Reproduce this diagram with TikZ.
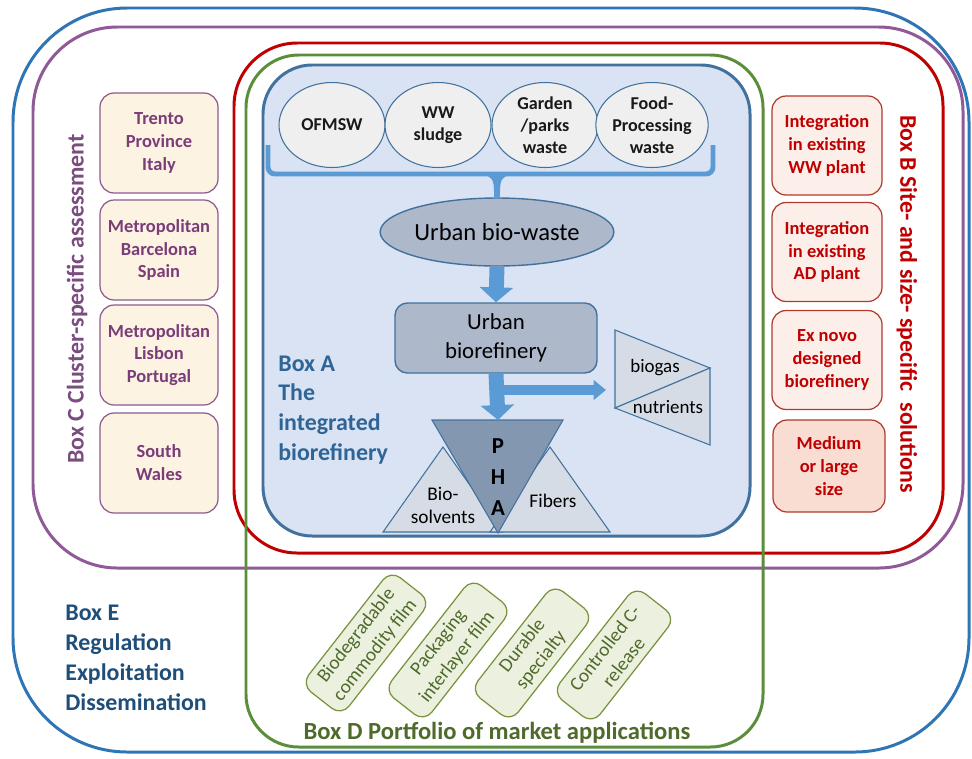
\documentclass[tikz,border=0pt]{standalone}
\usepackage{fontspec}
\setmainfont{Carlito}
\usetikzlibrary{arrows.meta,shapes.geometric}
\definecolor{cE}{HTML}{2E75B6}
\definecolor{cEt}{HTML}{1F4E79}
\definecolor{cC}{HTML}{8F5A97}
\definecolor{cCt}{HTML}{7A3D78}
\definecolor{cCb}{HTML}{8E5A8E}
\definecolor{cCf}{HTML}{FDF3E3}
\definecolor{cB}{HTML}{C00000}
\definecolor{cBb}{HTML}{B03A2E}
\definecolor{cBf}{HTML}{FCEFEA}
\definecolor{cBf2}{HTML}{F9DCD2}
\definecolor{cD}{HTML}{5B8E3B}
\definecolor{cDt}{HTML}{4F6A2A}
\definecolor{cDb}{HTML}{77933C}
\definecolor{cDf}{HTML}{EBF1DE}
\definecolor{cA}{HTML}{41719C}
\definecolor{cAf}{HTML}{DAE3F3}
\definecolor{cAt}{HTML}{2F6496}
\definecolor{cArr}{HTML}{5B9BD5}
\definecolor{cSrc}{HTML}{EFEFEF}
\definecolor{cMid}{HTML}{ADB9CA}
\definecolor{cPha}{HTML}{8497B0}
\definecolor{cLt}{HTML}{D6DCE5}
\begin{document}
\begin{tikzpicture}[x=0.02cm,y=-0.02cm,
  outl/.style={line width=1.7pt},
  lbl/.style={font=\fontsize{13.6}{17}\selectfont\bfseries, inner sep=0pt},
  src/.style={ellipse, draw=cA, line width=0.6pt, fill=cSrc, minimum width=2.12cm, minimum height=1.7cm, inner sep=0pt, align=center, font=\fontsize{10.3}{12.5}\selectfont\bfseries, text=black!90},
  cbox/.style={draw=cCb, line width=0.7pt, fill=cCf, rounded corners=8pt, minimum width=2.36cm, minimum height=2cm, inner sep=1pt, align=center, text=cCt, font=\fontsize{10.5}{13}\selectfont\bfseries},
  bbox/.style={draw=cBb, line width=0.7pt, fill=cBf, rounded corners=8pt, minimum width=2.2cm, minimum height=1.98cm, inner sep=1pt, align=center, text=cB, font=\fontsize{10.5}{13}\selectfont\bfseries},
  gbox/.style={draw=cDb, line width=0.7pt, fill=cDf, rounded corners=7pt, minimum width=2.85cm, minimum height=1.02cm, inner sep=1pt, align=center, text=cDt, rotate=52, font=\fontsize{11}{13.5}\selectfont},
  barrow/.style={draw=cArr, line width=8.5pt, -{Triangle[width=18.7pt,length=8.5pt]}},
  sarrow/.style={draw=cArr, line width=5.7pt, -{Triangle[width=11pt,length=7pt]}},
  tri/.style={draw=cA, line width=0.6pt, fill=cLt, line join=miter},
]
\useasboundingbox (0,0) rectangle (972,758);
\fill[white] (0,0) rectangle (972,758);
% container outlines
\draw[cE, outl, rounded corners=65pt] (13,8) rectangle (969,752);
\draw[cC, outl, rounded corners=48pt] (33,27) rectangle (963,568);
\draw[cB, outl, rounded corners=36pt] (234,43) rectangle (943,553);
\draw[cD, outl, rounded corners=30pt] (246,55) rectangle (763,747);
\draw[cA, outl, fill=cAf, rounded corners=28pt] (263,65) rectangle (750,536);

% Box labels
\node[lbl, text=cC!85!black, rotate=90] (lblC) at (77,299) {Box C Cluster-specific assessment};
\node[lbl, text=cB, rotate=-90] (lblB) at (907,304) {Box B Site- and size- specific\ \ solutions};
\node[lbl, text=cEt, anchor=west, align=left] (lblE) at (65,658) {Box E\\Regulation\\Exploitation\\Dissemination};
\node[lbl, text=cAt, anchor=west, align=left] (lblA) at (278,410) {Box A\\The\\integrated\\biorefinery};
\node[lbl, text=cDt, font=\fontsize{14}{17}\selectfont\bfseries] (lblD) at (497,733) {Box D Portfolio of market applications};

% Box C cells
\node[cbox] (c1) at (159,143) {Trento\\Province\\Italy};
\node[cbox] (c2) at (159,250) {Metropolitan\\Barcelona\\Spain};
\node[cbox] (c3) at (159,355) {Metropolitan\\Lisbon\\Portugal};
\node[cbox] (c4) at (159,463) {South\\Wales};

% Box B cells
\node[bbox] (b1) at (827,145.5) {Integration\\in existing\\WW plant};
\node[bbox] (b2) at (827,252) {Integration\\in existing\\AD plant};
\node[bbox] (b3) at (827,360) {Ex novo\\designed\\biorefinery};
\node[bbox, fill=cBf2, minimum width=2.24cm, minimum height=1.84cm] (b4) at (829,466) {Medium\\or large\\size};

% Box D cells
\node[gbox, minimum width=2.9cm] (d1) at (366,643) {Biodegradable\\commodity film};
\node[gbox] (d2) at (448,650) {Packaging\\interlayer film};
\node[gbox, minimum width=2.7cm] (d3) at (532,653) {Durable\\specialty};
\node[gbox, minimum width=2.7cm] (d4) at (614,655) {Controlled C-\\release};

% sources
\node[src] (s1) at (332,125) {OFMSW};
\node[src] (s2) at (438,125) {WW\\sludge};
\node[src] (s3) at (545,125) {Garden\\/parks\\waste};
\node[src] (s4) at (652,125) {Food-\\Processing\\waste};

% brace
\coordinate (bm) at (497,174);
\draw[cArr, line width=2.8pt, rounded corners=4pt] (268,145) -- (268,174) -- (713,174) -- (713,145);
\fill[cArr] (483,175) .. controls (492,176) and (494,180) .. (494,192) -- (500,192) .. controls (500,180) and (502,176) .. (511,175) -- cycle;

% urban bio-waste
\node[ellipse, draw=cA, line width=0.8pt, fill=cMid, minimum width=4cm, minimum height=1.36cm, inner sep=0pt, font=\fontsize{14}{17}\selectfont] (bw) at (497,232) {Urban bio-waste};
\draw[cArr, line width=3.6pt] (bm) -- (bw.north);

% urban biorefinery
\node[draw=cA, line width=0.8pt, fill=cMid, rounded corners=7pt, minimum width=4.04cm, minimum height=1.4cm, inner sep=0pt, align=center, font=\fontsize{13}{16.6}\selectfont] (ub) at (496,338) {Urban\\biorefinery};

% side products
\coordinate (g1) at (615,330);
\coordinate (g2) at (710,368);
\coordinate (g3) at (615,408);
\coordinate (g4) at (710,445);
\draw[tri] (g1) -- (g2) -- (g3) -- cycle;
\draw[tri] (g2) -- (g4) -- (g3) -- cycle;
\node[font=\fontsize{10.8}{13}\selectfont, inner sep=0pt] (tbg) at (655,368) {biogas};
\node[font=\fontsize{10.8}{13}\selectfont, inner sep=0pt] (tnu) at (668,407) {nutrients};

% product triangles
\coordinate (bs1) at (383,532);
\coordinate (bs2) at (503,532);
\coordinate (bs3) at (443,447);
\coordinate (fb1) at (490,532);
\coordinate (fb2) at (610,532);
\coordinate (fb3) at (550,447);
\draw[tri] (bs1) -- (bs2) -- (bs3) -- cycle;
\draw[tri] (fb1) -- (fb2) -- (fb3) -- cycle;
\coordinate (p1) at (432,420);
\coordinate (p2) at (563,420);
\coordinate (p3) at (498,533);
\coordinate (pt) at (498,420);
\draw[tri, fill=cPha] (p1) -- (p2) -- (p3) -- cycle;
\node[font=\fontsize{13}{17.5}\selectfont\bfseries, align=center, inner sep=0pt] (pha) at (498,477) {P\\H\\A};
\node[font=\fontsize{11}{13}\selectfont, align=center, inner sep=0pt] (tbs) at (443,505) {Bio-\\solvents};
\node[font=\fontsize{11}{13}\selectfont, inner sep=0pt] (tfb) at (553,501) {Fibers};

% arrows
\draw[barrow] (bw.south) -- (ub.north);
\draw[barrow] (ub.south) -- (pt);
\coordinate (sa) at (497,390);
\coordinate (sb) at (606,390);
\draw[sarrow] (sa) -- (sb);
\end{tikzpicture}
\end{document}
